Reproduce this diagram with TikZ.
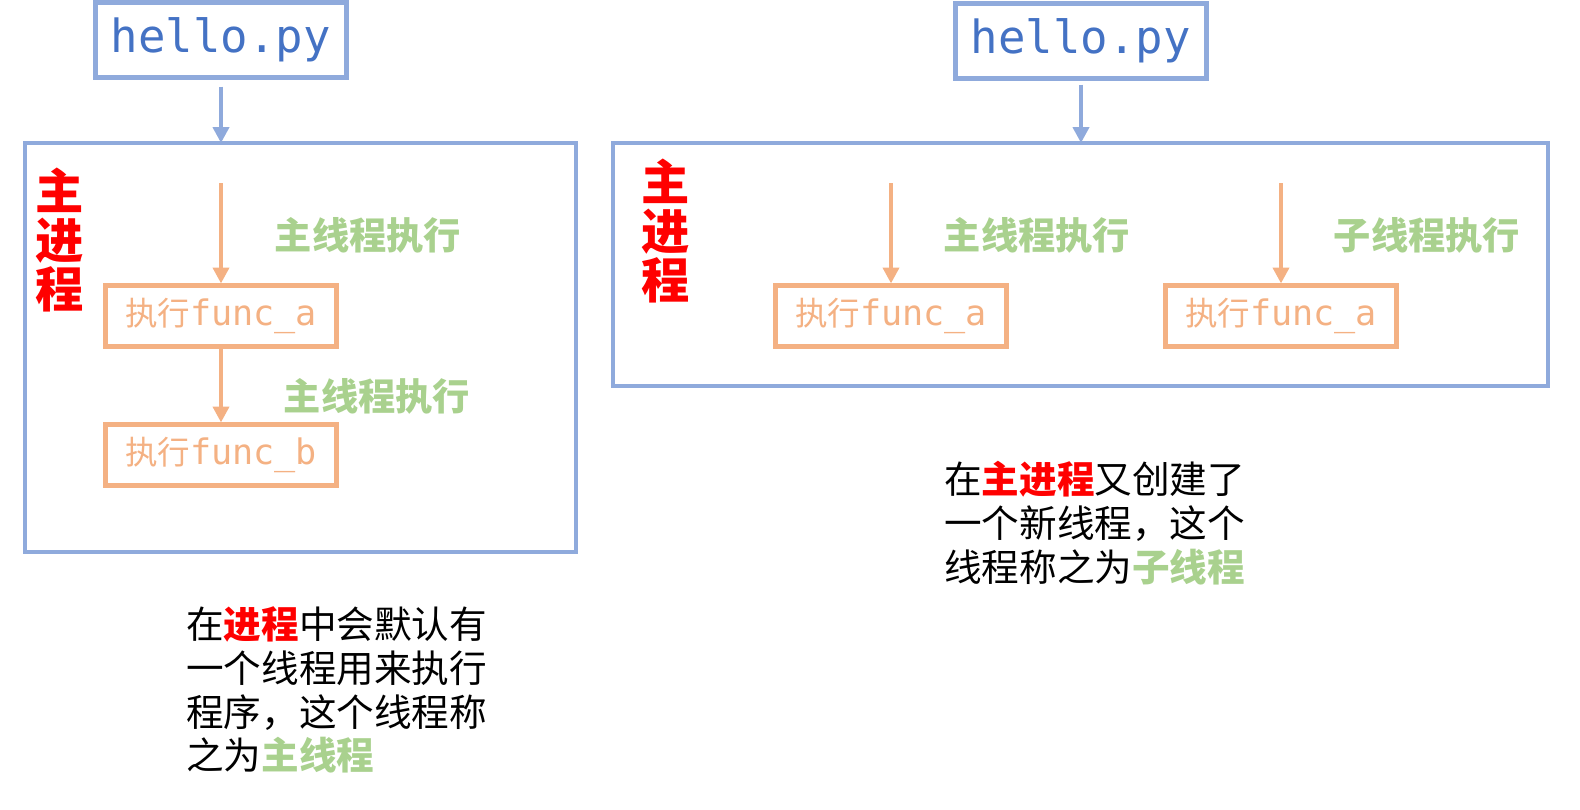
\documentclass[tikz,border=0pt]{standalone}
\usepackage{fontspec}
\usepackage{tikz}
\usetikzlibrary{arrows.meta}
\newfontfamily\cjk{Noto Sans CJK SC}
\newfontfamily\codefont{DejaVu Sans Mono}
\definecolor{boxblue}{HTML}{8FAADC}
\definecolor{textblue}{HTML}{4472C4}
\definecolor{funcorange}{HTML}{F4B183}
\definecolor{threadgreen}{HTML}{A9D18E}

\begin{document}
\begin{tikzpicture}[x=0.02cm,y=-0.02cm,
                file node/.style={draw=boxblue,line width=2.3pt,minimum width=251\pgfxx,minimum height=75\pgfxx,
                  text=textblue,font=\codefont\fontsize{26}{28}\selectfont},
                func node/.style={draw=funcorange,line width=2.3pt,minimum width=231\pgfxx,minimum height=61\pgfxx,
                  inner sep=0pt,text=funcorange},
                call/.style={draw=boxblue,line width=2.3pt,-{Triangle[width=9pt,length=9pt]}},
                run/.style={draw=funcorange,line width=2.3pt,-{Triangle[width=9pt,length=9pt]}},
                proc label/.style={text=red,align=center,font=\cjk\bfseries\fontsize{27.5}{28}\selectfont},
                thread label/.style={text=threadgreen,font=\cjk\bfseries\fontsize{21.2}{22}\selectfont},
                note/.style={anchor=north west,align=left,inner sep=0pt,font=\cjk\fontsize{21.4}{25}\selectfont}]
            \def\pgfxx{*0.02cm}
            \useasboundingbox (0,0) rectangle (1580,809);

            % left: one process, main thread only
            \node[file node] (hello1) at (221,40) {hello.py};
            \draw[draw=boxblue,line width=2.3pt] (25,143) rectangle (576,552);
            \coordinate (proc1) at (221,143);
            \node[proc label] (main1) at (60,240) {主\\进\\程};
            \node[func node] (funcA1) at (221,316) {{\cjk\fontsize{18.5}{20}\selectfont 执行}{\codefont\fontsize{20}{20}\selectfont func\_a}};
            \node[func node] (funcB1) at (221,455) {{\cjk\fontsize{18.5}{20}\selectfont 执行}{\codefont\fontsize{20}{20}\selectfont func\_b}};
            \coordinate (start1) at (221,183);
            \node[thread label] (run1) at (368,235) {主线程执行};
            \node[thread label] (run2) at (377,396) {主线程执行};
            \draw[call] (hello1.south) ++(0,7) -- (proc1);
            \draw[run] (start1) -- (funcA1.north);
            \draw[run] (funcA1) -- (funcB1);
            \node[note] (note1) at (186,606) {在{\bfseries\color{red}进程}中会默认有\\一个线程用来执行\\程序，这个线程称\\之为{\bfseries\color{threadgreen}主线程}};

            % right: main thread plus a child thread
            \node[file node] (hello2) at (1081,41) {hello.py};
            \draw[draw=boxblue,line width=2.3pt] (613,143) rectangle (1548,386);
            \coordinate (proc2) at (1081,143);
            \node[proc label] (main2) at (666,231) {主\\进\\程};
            \node[func node] (funcA2) at (891,316) {{\cjk\fontsize{18.5}{20}\selectfont 执行}{\codefont\fontsize{20}{20}\selectfont func\_a}};
            \node[func node] (funcA3) at (1281,316) {{\cjk\fontsize{18.5}{20}\selectfont 执行}{\codefont\fontsize{20}{20}\selectfont func\_a}};
            \coordinate (start2) at (891,183);
            \coordinate (start3) at (1281,183);
            \node[thread label] (run3) at (1037,235) {主线程执行};
            \node[thread label] (run4) at (1427,235) {子线程执行};
            \draw[call] (hello2.south) ++(0,4) -- (proc2);
            \draw[run] (start2) -- (funcA2.north);
            \draw[run] (start3) -- (funcA3.north);
            \node[note] (note2) at (944,461) {在{\bfseries\color{red}主进程}又创建了\\一个新线程，这个\\线程称之为{\bfseries\color{threadgreen}子线程}};

        \end{tikzpicture}
\end{document}
